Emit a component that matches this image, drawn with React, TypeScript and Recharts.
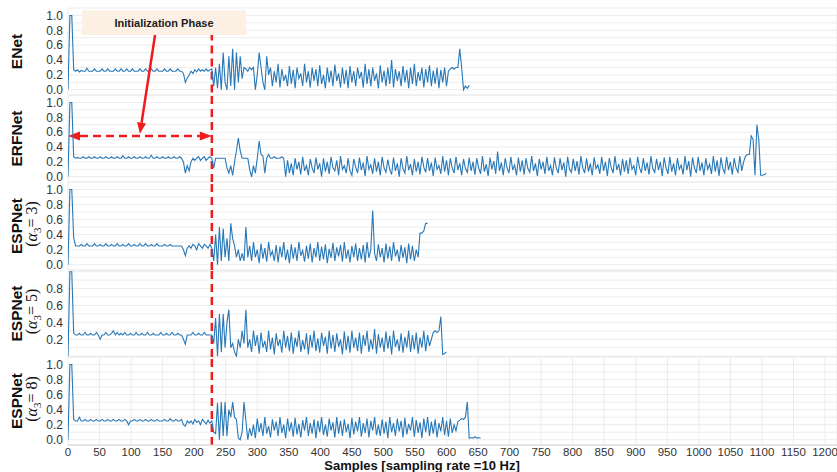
import { LineChart, Line, XAxis, YAxis, CartesianGrid, ReferenceLine } from "recharts";

// values every 3 samples
const STEP = 3;
const X_MAX = 1219;
const X_TICKS = [0, 50, 100, 150, 200, 250, 300, 350, 400, 450, 500, 550, 600, 650, 700, 750, 800, 850, 900, 950, 1000, 1050, 1100, 1150, 1200];
const Y_TICKS = [0, 0.1, 0.2, 0.3, 0.4, 0.5, 0.6, 0.7, 0.8, 0.9, 1.0];
const INIT_END = 228;

const ENET = [
  0, 1, 1, 0.27,
  0.25, 0.27, 0.24, 0.26, 0.25, 0.25, 0.29, 0.25, 0.25, 0.25,
  0.28, 0.25, 0.25, 0.25, 0.28, 0.25, 0.25, 0.28, 0.25, 0.25,
  0.25, 0.28, 0.25, 0.25, 0.28, 0.25, 0.25, 0.28, 0.25, 0.25,
  0.28, 0.25, 0.25, 0.25, 0.28, 0.25, 0.25, 0.28, 0.25, 0.25,
  0.28, 0.25, 0.25, 0.28, 0.25, 0.25, 0.25, 0.28, 0.25, 0.25,
  0.28, 0.25, 0.25, 0.25, 0.28, 0.25, 0.25,
  0.22, 0.1, 0.16, 0.2,
  0.25, 0.22, 0.27, 0.24, 0.28, 0.25, 0.27, 0.25, 0.28, 0.25, 0.27,
  0.28,
  0.05, 0.3, 0.02, 0.35, 0.0, 0.5, 0.1, 0.0, 0.45, 0.05, 0.55, 0.0, 0.5, 0.1, 0.45, 0.15, 0.3,
  0.28, 0.25, 0.3, 0.27, 0.3,
  0.0, 0.2, 0.5, 0.3, 0.1, 0.0, 0.45, 0.2,
  0.3, 0.05, 0.25, 0.1, 0.35, 0.03, 0.28, 0.12, 0.2, 0.05,
  0.32, 0.08, 0.27, 0.02, 0.3, 0.15, 0.22, 0.05, 0.35, 0.1,
  0.25, 0.03, 0.3, 0.12, 0.28, 0.05, 0.33, 0.08, 0.2, 0.02,
  0.3, 0.1, 0.26, 0.05, 0.34, 0.12, 0.22, 0.03, 0.3, 0.08,
  0.27, 0.02, 0.32, 0.1, 0.25, 0.05, 0.3, 0.15, 0.24, 0.03,
  0.35, 0.08, 0.28, 0.05, 0.3, 0.12, 0.22, 0.02, 0.33, 0.1,
  0.26, 0.05, 0.3, 0.08, 0.4, 0.03, 0.28, 0.12, 0.25, 0.05,
  0.32, 0.1, 0.27, 0.02, 0.3, 0.08, 0.35, 0.05, 0.24, 0.12,
  0.3, 0.03, 0.28, 0.1, 0.33, 0.05, 0.26, 0.08, 0.3, 0.02,
  0.27, 0.1, 0.3, 0.05, 0.25,
  0.28, 0.3, 0.28, 0.3, 0.3, 0.55, 0.3, 0.0, 0.05, 0.02, 0.06,
];

const ERFNET = [
  0, 1, 1, 0.27,
  0.25, 0.26, 0.25, 0.25, 0.27, 0.25, 0.25, 0.27, 0.25, 0.25,
  0.27, 0.25, 0.25, 0.27, 0.25, 0.25, 0.27, 0.25, 0.25, 0.27,
  0.25, 0.25, 0.27, 0.25, 0.25, 0.28, 0.25, 0.25, 0.27, 0.25,
  0.25, 0.27, 0.25, 0.25, 0.27, 0.25, 0.25, 0.27, 0.25, 0.25,
  0.29, 0.25, 0.25, 0.27, 0.25, 0.25, 0.27, 0.25, 0.25, 0.27,
  0.25, 0.25, 0.27, 0.25, 0.25, 0.27, 0.25,
  0.2, 0.05, 0.15, 0.08,
  0.2, 0.25, 0.22, 0.25, 0.27, 0.22, 0.25, 0.27, 0.22, 0.25, 0.27,
  0.25,
  0.12,
  0.25, 0.25, 0.25, 0.25, 0.25, 0.25,
  0.12, 0.05, 0.15, 0.02, 0.2, 0.35, 0.52, 0.35, 0.25,
  0.25, 0.25, 0.25,
  0.1, 0.0, 0.15, 0.05,
  0.25, 0.48, 0.3, 0.28, 0.05, 0.25, 0.3,
  0.25, 0.25, 0.27, 0.25, 0.25, 0.25, 0.27, 0.25,
  0.0,
  0.22, 0.05, 0.18, 0.02, 0.25, 0.1, 0.2, 0.03, 0.27, 0.08, 0.15,
  0.02, 0.24, 0.12, 0.05, 0.26, 0.1, 0.18, 0.0, 0.25, 0.07, 0.2,
  0.04, 0.27, 0.12, 0.08, 0.22, 0.02, 0.28, 0.1, 0.15, 0.05, 0.25,
  0.08, 0.02, 0.24, 0.13, 0.05, 0.26, 0.09, 0.19, 0.01, 0.28, 0.1,
  0.16, 0.04, 0.25, 0.07, 0.2, 0.02, 0.27, 0.12, 0.06, 0.23, 0.1,
  0.03, 0.26, 0.08, 0.18, 0.0, 0.25, 0.11, 0.05, 0.28, 0.09, 0.17,
  0.02, 0.24, 0.07, 0.2, 0.03, 0.27, 0.13, 0.06, 0.25, 0.08, 0.19,
  0.01, 0.26, 0.1, 0.15, 0.04, 0.28, 0.07, 0.22, 0.02, 0.25, 0.12,
  0.05, 0.27, 0.09, 0.18, 0.02, 0.24, 0.11, 0.06, 0.26, 0.08, 0.2,
  0.03, 0.25, 0.12, 0.04, 0.28, 0.07, 0.17, 0.01, 0.26, 0.1, 0.21,
  0.04, 0.34, 0.08, 0.19, 0.02, 0.25, 0.12, 0.05, 0.27, 0.09, 0.16,
  0.02, 0.26, 0.07, 0.22, 0.03, 0.25, 0.11, 0.06, 0.28, 0.08, 0.18,
  0.01, 0.24, 0.1, 0.2, 0.04, 0.27, 0.08, 0.15, 0.02, 0.26, 0.12,
  0.05, 0.25, 0.09, 0.19, 0.0, 0.27, 0.1, 0.06, 0.24, 0.08, 0.21,
  0.03, 0.28, 0.12, 0.05, 0.25, 0.07, 0.18, 0.02, 0.26, 0.11, 0.16,
  0.04, 0.27, 0.08, 0.2, 0.01, 0.25, 0.13, 0.05, 0.28, 0.09, 0.17,
  0.02, 0.24, 0.07, 0.22, 0.04, 0.26, 0.1, 0.15, 0.02, 0.27, 0.12,
  0.05, 0.25, 0.08, 0.19, 0.03, 0.28, 0.11, 0.06, 0.24, 0.09, 0.2,
  0.01, 0.26, 0.12, 0.04, 0.27, 0.07, 0.18, 0.02, 0.25, 0.1, 0.16,
  0.03, 0.28, 0.09, 0.21, 0.0, 0.26, 0.12, 0.05, 0.27, 0.08, 0.19,
  0.02, 0.25, 0.1, 0.17, 0.04, 0.28, 0.07, 0.22, 0.01, 0.26, 0.11,
  0.05, 0.27, 0.09, 0.2, 0.03, 0.25, 0.12, 0.06, 0.28, 0.08, 0.2,
  0.28, 0.3, 0.3, 0.55, 0.5, 0.02, 0.7, 0.5, 0.02, 0.02, 0.03, 0.05,
];

const ESPNET_3 = [
  0, 1, 1, 0.36,
  0.25, 0.25, 0.25, 0.27, 0.25, 0.25, 0.28, 0.25, 0.25, 0.25,
  0.28, 0.25, 0.25, 0.27, 0.25, 0.25, 0.28, 0.25, 0.25, 0.27,
  0.25, 0.25, 0.28, 0.25, 0.25, 0.27, 0.25, 0.25, 0.28, 0.25,
  0.25, 0.27, 0.25, 0.25, 0.28, 0.25, 0.25, 0.28, 0.25, 0.25,
  0.27, 0.25, 0.25, 0.28, 0.25, 0.25, 0.25, 0.27, 0.25, 0.25,
  0.27, 0.25, 0.25, 0.25, 0.25, 0.25, 0.25,
  0.2, 0.12, 0.22, 0.25,
  0.22, 0.27, 0.25, 0.2, 0.28, 0.25, 0.22, 0.27, 0.25, 0.22, 0.27,
  0.22,
  0.05, 0.4, 0.0, 0.5, 0.05, 0.48, 0.1, 0.35, 0.05, 0.55, 0.35, 0.25, 0.1, 0.2, 0.05, 0.15, 0.05, 0.5,
  0.1,
  0.25, 0.05, 0.3, 0.1, 0.2, 0.02, 0.28, 0.08, 0.22, 0.04,
  0.3, 0.12, 0.18, 0.05, 0.26, 0.03, 0.24, 0.1, 0.3, 0.06,
  0.2, 0.02, 0.27, 0.08, 0.23, 0.05, 0.3, 0.12, 0.19, 0.04,
  0.25, 0.08, 0.28, 0.03, 0.22, 0.1, 0.3, 0.05, 0.24, 0.07,
  0.27, 0.02, 0.21, 0.09, 0.29, 0.05, 0.23, 0.11, 0.26, 0.04,
  0.3, 0.08, 0.2, 0.03, 0.25, 0.1, 0.28, 0.05, 0.22, 0.07,
  0.26, 0.03, 0.3, 0.09, 0.2, 0.72, 0.15, 0.05, 0.27, 0.1,
  0.22, 0.03, 0.28, 0.08, 0.24, 0.05, 0.3, 0.11, 0.2, 0.04,
  0.26, 0.09, 0.23, 0.02, 0.28, 0.07, 0.25, 0.05, 0.2,
  0.1, 0.42, 0.42, 0.45, 0.55, 0.55,
];

const ESPNET_5 = [
  0, 1, 1, 0.27,
  0.25, 0.25, 0.27, 0.25, 0.25, 0.28, 0.25, 0.25, 0.27, 0.25,
  0.25, 0.28, 0.25, 0.2, 0.25, 0.25, 0.28, 0.25, 0.25, 0.27,
  0.3, 0.25, 0.28, 0.25, 0.27, 0.25, 0.28, 0.25, 0.25, 0.27,
  0.25, 0.25, 0.28, 0.25, 0.25, 0.27, 0.25, 0.25, 0.28, 0.25,
  0.25, 0.27, 0.25, 0.25, 0.25, 0.28, 0.25, 0.25, 0.27, 0.25,
  0.25, 0.28, 0.25, 0.25, 0.27, 0.25, 0.25,
  0.2, 0.14, 0.25, 0.25,
  0.25, 0.28, 0.25, 0.25, 0.27, 0.25, 0.25, 0.28, 0.25, 0.25, 0.25,
  0.25,
  0.15, 0.45, 0.0, 0.5, 0.05, 0.5, 0.1, 0.4, 0.55, 0.1, 0.15, 0.05, 0.0, 0.2, 0.1, 0.3, 0.15, 0.55, 0.1,
  0.2, 0.05, 0.3, 0.12, 0.25, 0.03, 0.28, 0.1, 0.18, 0.05,
  0.3, 0.08, 0.22, 0.02, 0.27, 0.12, 0.2, 0.04, 0.3, 0.1,
  0.24, 0.06, 0.28, 0.03, 0.22, 0.11, 0.3, 0.05, 0.19, 0.08,
  0.27, 0.02, 0.25, 0.1, 0.3, 0.06, 0.21, 0.04, 0.28, 0.12,
  0.23, 0.03, 0.3, 0.09, 0.25, 0.05, 0.27, 0.11, 0.2, 0.02,
  0.29, 0.07, 0.24, 0.04, 0.3, 0.1, 0.22, 0.06, 0.28, 0.03,
  0.25, 0.12, 0.3, 0.05, 0.2, 0.08, 0.32, 0.03, 0.26, 0.1,
  0.22, 0.05, 0.29, 0.09, 0.24, 0.02, 0.3, 0.11, 0.2, 0.06,
  0.27, 0.04, 0.23, 0.1, 0.3, 0.05, 0.25, 0.08, 0.28, 0.03,
  0.22, 0.1, 0.3, 0.06, 0.25, 0.12, 0.2,
  0.28, 0.3, 0.28, 0.3, 0.47, 0.02, 0.03, 0.05,
];

const ESPNET_8 = [
  0, 1, 1, 0.27,
  0.25, 0.25, 0.3, 0.25, 0.25, 0.27, 0.25, 0.25, 0.27, 0.25,
  0.25, 0.27, 0.25, 0.25, 0.27, 0.25, 0.25, 0.27, 0.25, 0.25,
  0.27, 0.25, 0.25, 0.27, 0.25, 0.25, 0.27, 0.25, 0.2, 0.25,
  0.25, 0.27, 0.25, 0.25, 0.27, 0.25, 0.25, 0.27, 0.25, 0.25,
  0.27, 0.25, 0.25, 0.27, 0.25, 0.25, 0.25, 0.27, 0.25, 0.25,
  0.28, 0.25, 0.25, 0.27, 0.25, 0.25, 0.27,
  0.2, 0.18, 0.25, 0.22,
  0.25, 0.21, 0.27, 0.23, 0.25, 0.2, 0.27, 0.24, 0.21, 0.26, 0.22,
  0.25,
  0.1, 0.08, 0.49, 0.0, 0.5, 0.05, 0.5, 0.05, 0.4, 0.3, 0.5, 0.3, 0.27, 0.02, 0.0, 0.1, 0.5, 0.25, 0.0,
  0.15, 0.05, 0.2, 0.02, 0.28, 0.1, 0.22, 0.05, 0.3, 0.08,
  0.18, 0.03, 0.27, 0.12, 0.24, 0.05, 0.3, 0.09, 0.2, 0.02,
  0.28, 0.11, 0.23, 0.04, 0.29, 0.07, 0.21, 0.03, 0.26, 0.12,
  0.3, 0.05, 0.22, 0.08, 0.27, 0.02, 0.25, 0.1, 0.3, 0.06,
  0.2, 0.04, 0.28, 0.12, 0.23, 0.03, 0.3, 0.08, 0.25, 0.05,
  0.27, 0.1, 0.21, 0.02, 0.29, 0.07, 0.24, 0.11, 0.3, 0.04,
  0.22, 0.09, 0.28, 0.03, 0.25, 0.12, 0.3, 0.06, 0.2, 0.05,
  0.27, 0.08, 0.24, 0.02, 0.3, 0.1, 0.22, 0.05, 0.28, 0.11,
  0.25, 0.03, 0.29, 0.07, 0.21, 0.12, 0.3, 0.04, 0.26, 0.09,
  0.23, 0.02, 0.28, 0.1, 0.3, 0.05, 0.24, 0.08, 0.27, 0.03,
  0.22, 0.11, 0.3, 0.06, 0.25, 0.04, 0.28, 0.09, 0.2, 0.12, 0.24,
  0.26, 0.28, 0.27, 0.3, 0.5, 0.02, 0.03, 0.02, 0.04, 0.02, 0.03, 0.02,
];

const W = 837;
const PLOT_LEFT = 68;
const FONT = "'Liberation Sans', Arial, sans-serif";
const BLUE = "#2878b8";
const RED = "#ee1c1c";
const DOMAIN: [number, number] = [-0.07, 1.1];

const PANELS = [
  { name: "ENet", values: ENET, top: 8, height: 87, domain: DOMAIN, ends: true },
  { name: "ERFNet", values: ERFNET, top: 95, height: 87, domain: DOMAIN, ends: true },
  { name: "ESPNet", sub: "3", values: ESPNET_3, top: 182, height: 88, domain: DOMAIN, ends: true },
  { name: "ESPNet", sub: "5", values: ESPNET_5, top: 270, height: 87, domain: [-0.01, 1.02] as [number, number], ends: false },
  { name: "ESPNet", sub: "8", values: ESPNET_8, top: 357, height: 88, domain: DOMAIN, ends: true },
];

const sx = (s: number) => PLOT_LEFT + (s * (W - PLOT_LEFT)) / X_MAX;
const sy = (p: (typeof PANELS)[number], v: number) =>
  p.top + ((p.domain[1] - v) / (p.domain[1] - p.domain[0])) * p.height;

function DoubleArrow(props: any) {
  const { x1, y1, x2 } = props;
  const L = 12, H = 4.5;
  return (
    <g>
      <line x1={x1 + L} y1={y1} x2={x2 - L} y2={y1} stroke={RED} strokeWidth={2.5} strokeDasharray="8 5" />
      <polygon points={`${x1},${y1} ${x1 + L},${y1 - H} ${x1 + L},${y1 + H}`} fill={RED} />
      <polygon points={`${x2},${y1} ${x2 - L},${y1 - H} ${x2 - L},${y1 + H}`} fill={RED} />
    </g>
  );
}

function Panel({ p, index }: { p: (typeof PANELS)[number]; index: number }) {
  const last = index === PANELS.length - 1;
  const data = p.values.map((v, i) => ({ s: i * STEP, v }));
  const fmt = (v: number) => {
    const k = Math.round(v * 10);
    if (k % 2 !== 0) return "";
    if (!p.ends && (k === 0 || k === 10)) return "";
    return v.toFixed(1);
  };
  return (
    <div style={{ position: "absolute", left: 0, top: p.top, zIndex: PANELS.length - index }}>
      <LineChart width={W} height={p.height + (last ? 27 : 0)} data={data} margin={{ top: 0, right: 0, bottom: 0, left: 0 }}>
        <CartesianGrid stroke="#ececec" />
        <XAxis
          dataKey="s"
          type="number"
          domain={[0, X_MAX]}
          ticks={X_TICKS}
          interval={0}
          allowDataOverflow
          height={last ? 27 : 0}
          tick={last ? { fontSize: 11.5, fill: "#333", fontFamily: FONT } : false}
          tickLine={false}
          tickSize={2}
          tickMargin={1}
          axisLine={{ stroke: "#d4d4d4" }}
        />
        <YAxis
          width={PLOT_LEFT}
          domain={p.domain}
          ticks={Y_TICKS}
          interval={0}
          allowDataOverflow
          tickFormatter={fmt}
          axisLine={false}
          tickLine={false}
          tickSize={4}
          tickMargin={1}
          tick={{ fontSize: 12, fill: "#333", fontFamily: FONT }}
        />
        {index === 0 ? (
          <ReferenceLine segment={[{ x: INIT_END, y: 0.77 }, { x: INIT_END, y: DOMAIN[0] }]} stroke={RED} strokeWidth={2.5} strokeDasharray="8 5" />
        ) : (
          <ReferenceLine x={INIT_END} stroke={RED} strokeWidth={2.5} strokeDasharray="8 5" />
        )}
        {index === 1 && (
          <ReferenceLine segment={[{ x: 0, y: 0.55 }, { x: INIT_END, y: 0.55 }]} shape={DoubleArrow} />
        )}
        <Line type="linear" dataKey="v" stroke={BLUE} strokeWidth={1.1} dot={false} isAnimationActive={false} />
      </LineChart>
    </div>
  );
}

function Overlay() {
  const tail = { x: sx(138), y: 35 };
  const tip = { x: sx(114), y: sy(PANELS[1], 0.58) };
  const dx = tip.x - tail.x, dy = tip.y - tail.y;
  const len = Math.hypot(dx, dy);
  const ux = dx / len, uy = dy / len;
  const bx = tip.x - ux * 11, by = tip.y - uy * 11;
  const hx = -uy * 4.5, hy = ux * 4.5;
  return (
    <svg width={W} height={472} style={{ position: "absolute", left: 0, top: 0, pointerEvents: "none", zIndex: 10 }}>
      <rect x={82} y={10.5} width={164} height={24.5} fill="#fbf0e3" />
      <text x={164} y={27} textAnchor="middle" fontFamily={FONT} fontWeight="bold" fontSize={11} fill="#222">
        Initialization Phase
      </text>
      <line x1={tail.x} y1={tail.y} x2={bx} y2={by} stroke={RED} strokeWidth={2.5} />
      <polygon points={`${tip.x},${tip.y} ${bx + hx},${by + hy} ${bx - hx},${by - hy}`} fill={RED} />
      {PANELS.map((p, i) => {
        const cy = p.top + p.height / 2;
        if (!p.sub) {
          return (
            <text key={i} transform={`translate(22,${cy}) rotate(-90)`} textAnchor="middle" fontFamily={FONT} fontWeight="bold" fontSize={15.5} fill="#111">
              {p.name}
            </text>
          );
        }
        return (
          <g key={i}>
            <text transform={`translate(22,${cy}) rotate(-90)`} textAnchor="middle" fontFamily={FONT} fontWeight="bold" fontSize={15.5} fill="#111">
              {p.name}
            </text>
            <text transform={`translate(37,${cy - 2}) rotate(-90)`} textAnchor="middle" fontFamily="'Liberation Serif', 'DejaVu Serif', serif" fontSize={16} fill="#111">
              <tspan>(</tspan>
              <tspan fontStyle="italic">α</tspan>
              <tspan fontSize={11} dy={4}>3</tspan>
              <tspan dy={-4}>= {p.sub})</tspan>
            </text>
          </g>
        );
      })}
      <text x={422} y={470} textAnchor="middle" fontFamily={FONT} fontWeight="bold" fontSize={13} fill="#111">
        Samples [sampling rate =10 Hz]
      </text>
    </svg>
  );
}

export default function App() {
  return (
    <div style={{ position: "absolute", left: 0, top: 0, width: W, height: 472, background: "#fff", overflow: "hidden" }}>
      <style>{"svg.recharts-surface { overflow: visible; }"}</style>
      {PANELS.map((p, i) => (
        <Panel key={i} p={p} index={i} />
      ))}
      <Overlay />
    </div>
  );
}
